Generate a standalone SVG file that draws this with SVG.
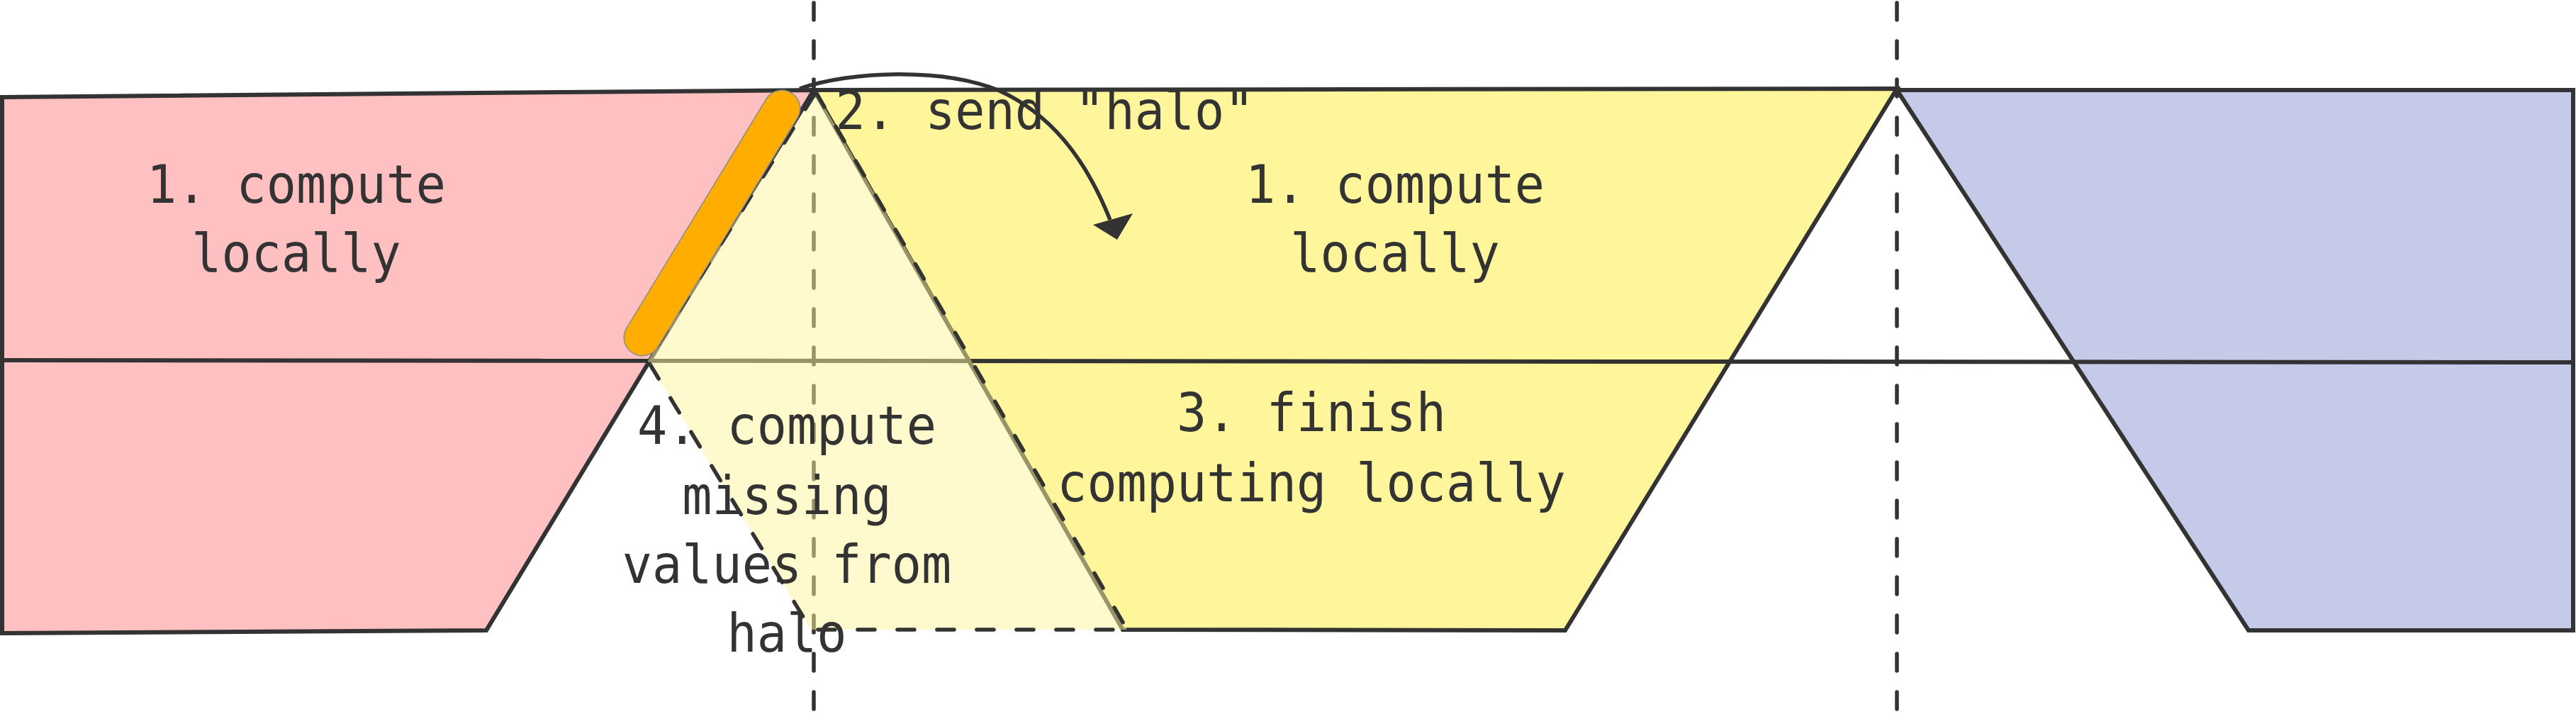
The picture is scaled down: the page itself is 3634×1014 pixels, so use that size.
<svg xmlns="http://www.w3.org/2000/svg" width="3634" height="1014" viewBox="0 0 3634 1014">
<style>
.shape{stroke:#333333;stroke-width:6;stroke-linejoin:miter}
.vdash{fill:none;stroke:#333333;stroke-width:5.5;stroke-dasharray:24 30;stroke-linecap:round}
.mid{fill:none;stroke:#333333;stroke-width:6}
.halo{fill:#FFF59D;fill-opacity:0.5;stroke:#333333;stroke-width:5.5;stroke-dasharray:24 32;stroke-linecap:round}
.lbl{font-family:"DejaVu Sans Mono","Liberation Mono",monospace;font-size:75px;fill:#333333;text-anchor:middle}
.arrow{fill:none;stroke:#333333;stroke-width:5.5}
</style>
<rect x="0" y="0" width="3634" height="1014" fill="#FFFFFF"/>
<g id="pink-domain">
<polygon class="shape" fill="#FFC0C1" points="3,137 1148,127 686,889 3,893"/>
</g>
<g id="yellow-domain">
<polygon class="shape" fill="#FFF69C" points="1148,127 2676,125 2208,889 1584,888"/>
</g>
<g id="blue-domain">
<polygon class="shape" fill="#C5CAE8" points="2676,127 3630,127 3630,889 3172,889"/>
</g>
<g id="guides">
<line class="vdash" x1="1148" y1="4" x2="1148" y2="1012"/>
<line class="vdash" x1="2676" y1="4" x2="2676" y2="1012"/>
<line class="mid" x1="3" y1="508" x2="3630" y2="511"/>
</g>
<g id="halo-region">
<polygon class="halo" points="1151,130 1590,888 1144,888 914,509"/>
</g>
<g id="halo-strip">
<line x1="1103" y1="153" x2="906" y2="476" stroke="#8a8a8a" stroke-width="53" stroke-linecap="round"/>
<line x1="1103" y1="153" x2="906" y2="476" stroke="#FFAE00" stroke-width="50" stroke-linecap="round"/>
</g>
<g id="connectors">
<path class="arrow" d="M1128,125 C1200,100 1330,95 1410,128 C1480,160 1530,220 1566,310"/>
<polygon fill="#333333" points="1576,338 1542,317 1598,301"/>
</g>
<g id="labels">
<text class="lbl" transform="translate(418,286) scale(0.935,1)">1. compute</text>
<text class="lbl" transform="translate(418,383) scale(0.935,1)">locally</text>
<text class="lbl" transform="translate(1968,286) scale(0.935,1)">1. compute</text>
<text class="lbl" transform="translate(1968,383) scale(0.935,1)">locally</text>
<text class="lbl" transform="translate(1474,182) scale(0.935,1)">2. send "halo"</text>
<text class="lbl" transform="translate(1850,608) scale(0.935,1)">3. finish</text>
<text class="lbl" transform="translate(1850,707) scale(0.935,1)">computing locally</text>
<text class="lbl" transform="translate(1110,626) scale(0.935,1)">4. compute</text>
<text class="lbl" transform="translate(1110,725) scale(0.935,1)">missing</text>
<text class="lbl" transform="translate(1110,822) scale(0.935,1)">values from</text>
<text class="lbl" transform="translate(1110,919) scale(0.935,1)">halo</text>
</g>
</svg>
